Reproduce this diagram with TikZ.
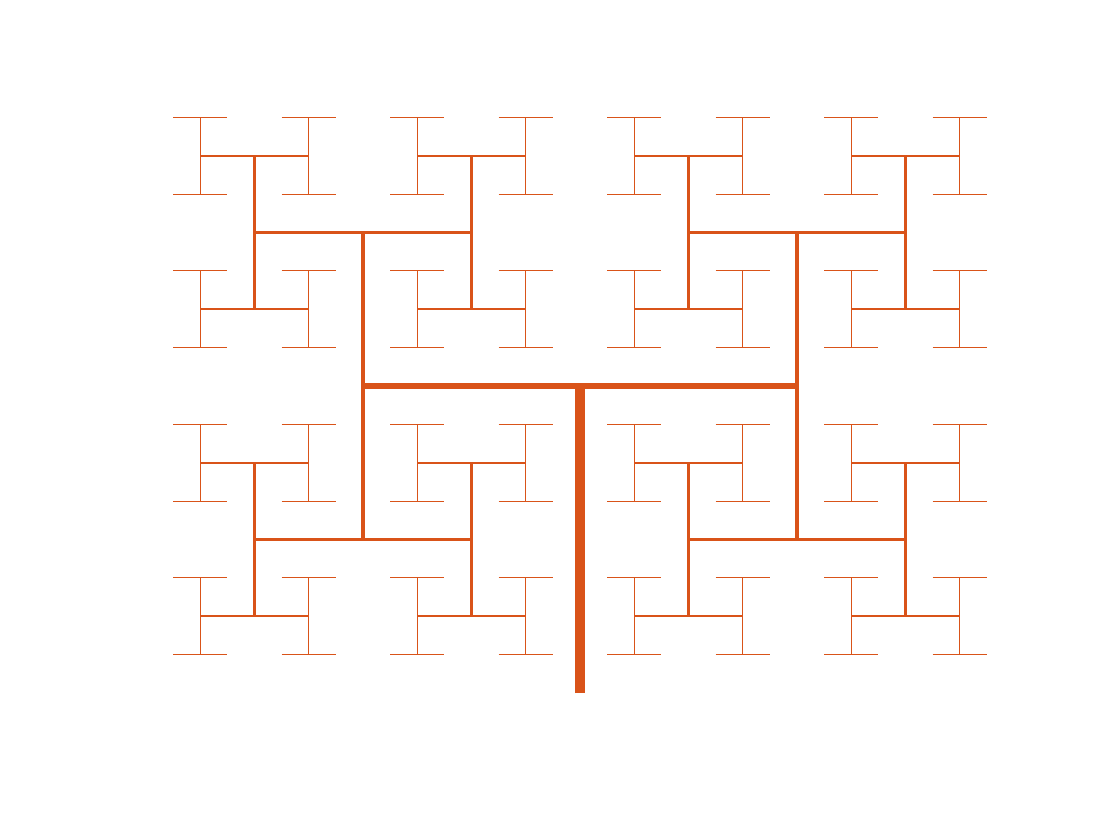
\documentclass[tikz,border=0pt]{standalone}
\usepackage{tikz}
\definecolor{treeorange}{RGB}{217,83,25}

% one H-tree level: centre x, centre y, half length, level
\newcommand{\htreelevel}[4]{%
  \ifnum#4>7\relax\else
    \ifcase#4\def\lw{10}\or\def\lw{6.5}\or\def\lw{4.3}\or\def\lw{3.2}\or\def\lw{2.5}\or\def\lw{2}\or\def\lw{1.4}\or\def\lw{1}\fi
    \pgfmathsetmacro\hnext{#3*0.70711}%
    \pgfmathtruncatemacro\lnext{#4+1}%
    \ifodd#4
      \pgfmathsetmacro\pa{#1-#3}\pgfmathsetmacro\pb{#1+#3}%
      \draw[branch, line width=\lw pt] (\pa,#2) -- (\pb,#2);
      \edef\next{\noexpand\htreelevel{\pa}{#2}{\hnext}{\lnext}\noexpand\htreelevel{\pb}{#2}{\hnext}{\lnext}}%
    \else
      \pgfmathsetmacro\pa{#2-#3}\pgfmathsetmacro\pb{#2+#3}%
      \draw[branch, line width=\lw pt] (#1,\pa) -- (#1,\pb);
      \edef\next{\noexpand\htreelevel{#1}{\pa}{\hnext}{\lnext}\noexpand\htreelevel{#1}{\pb}{\hnext}{\lnext}}%
    \fi
    \next
  \fi}

\begin{document}
\begin{tikzpicture}[
  x=1pt, y=-1pt,
  branch/.style={draw=treeorange, line cap=butt}
]
\useasboundingbox (0,0) rectangle (1120,840);
% trunk
\coordinate (root) at (580,693);
\coordinate (fork) at (580,386);
\draw[branch, line width=10pt] (root) -- (fork);
% branches
\htreelevel{580}{386}{217}{1}
\end{tikzpicture}
\end{document}
